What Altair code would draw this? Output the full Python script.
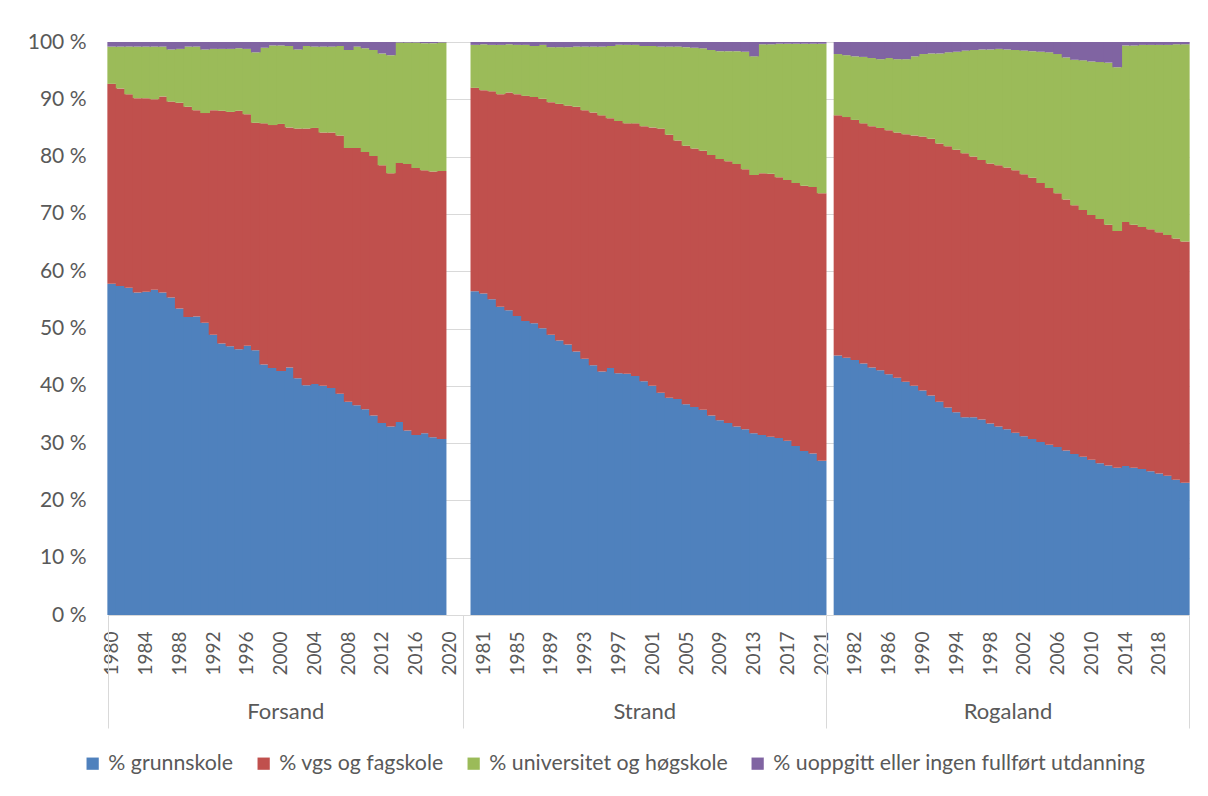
import json
import altair as alt
import pandas as pd

FONT = "Lato"
TXT = "#595959"
GRID = "#d9d9d9"

series_names = ["% grunnskole", "% vgs og fagskole", "% universitet og høgskole",
                "% uoppgitt eller ingen fullført utdanning"]
series_colors = ["#4F81BD", "#C0504D", "#9BBB59", "#8064A2"]

groups = ["Forsand", "Strand", "Rogaland"]
# category axis years per group (some categories have no data)
forsand_years = list(range(1980, 2022))
strand_years = list(range(1979, 2022))
rogaland_years = list(range(1979, 2022))
first_data_year = 1980

forsand_grunnskole = [57.8, 57.4, 57.1, 56.3, 56.4, 56.8, 56.3, 55.4, 53.5, 52.0,
                      52.1, 51.0, 48.9, 47.4, 46.9, 46.4, 47.0, 46.2, 43.7, 43.1,
                      42.6, 43.2, 41.3, 40.1, 40.3, 40.0, 39.6, 38.6, 37.2, 36.6,
                      35.9, 34.8, 33.5, 32.9, 33.7, 32.2, 31.4, 31.7, 31.0, 30.7]
forsand_vgs = [34.9, 34.5, 33.8, 33.9, 33.8, 33.3, 34.2, 34.2, 35.9, 36.7,
               36.0, 36.6, 39.2, 40.6, 40.9, 41.6, 40.4, 39.7, 42.1, 42.4,
               43.1, 41.9, 43.6, 44.8, 44.7, 44.2, 44.6, 45.1, 44.3, 44.9,
               44.9, 45.3, 45.0, 44.2, 45.2, 46.5, 46.6, 45.9, 46.4, 46.8]
forsand_uni = [6.5, 7.3, 8.3, 9.0, 9.0, 9.2, 8.7, 9.1, 9.4, 10.5,
               11.1, 11.1, 10.7, 10.8, 11.0, 10.9, 11.4, 12.3, 13.2, 13.9,
               13.7, 14.2, 13.8, 14.4, 14.2, 15.0, 15.0, 15.6, 17.1, 17.7,
               18.1, 18.5, 19.5, 20.6, 21.0, 21.2, 21.9, 22.2, 22.4, 22.4]
forsand_uopp = [0.8, 0.8, 0.8, 0.8, 0.8, 0.8, 0.8, 1.3, 1.2, 0.8,
                0.8, 1.3, 1.2, 1.2, 1.2, 1.1, 1.2, 1.8, 1.0, 0.6,
                0.6, 0.7, 1.3, 0.7, 0.8, 0.8, 0.8, 0.7, 1.4, 0.8,
                1.1, 1.4, 2.0, 2.3, 0.1, 0.1, 0.1, 0.2, 0.2, 0.1]

strand_grunnskole = [56.5, 56.1, 55.1, 53.8, 53.2, 52.2, 51.3, 50.9, 50.0, 48.9,
                     47.9, 47.2, 46.0, 44.7, 43.6, 42.5, 43.1, 42.2, 42.1, 41.7,
                     40.8, 40.0, 38.8, 37.9, 37.7, 36.8, 36.3, 35.8, 34.8, 34.0,
                     33.5, 32.9, 32.4, 31.7, 31.4, 31.1, 30.9, 30.4, 29.5, 28.6,
                     28.2, 26.9]
strand_vgs = [35.5, 35.5, 36.3, 37.1, 38.0, 38.7, 39.3, 39.5, 40.0, 40.6,
              41.3, 41.7, 42.7, 43.4, 44.1, 44.7, 43.6, 44.0, 43.7, 44.1,
              44.5, 45.1, 46.1, 45.9, 45.1, 45.1, 45.1, 45.2, 45.5, 45.6,
              45.7, 45.8, 45.4, 45.1, 45.7, 45.9, 45.5, 45.5, 45.9, 46.3,
              46.5, 46.7]
strand_uni = [7.5, 8.0, 8.1, 8.6, 8.4, 8.6, 8.9, 8.9, 9.4, 9.6,
              9.9, 10.2, 10.5, 11.1, 11.5, 12.0, 12.6, 13.3, 13.7, 13.7,
              14.0, 14.2, 14.3, 15.4, 16.4, 17.2, 17.6, 17.9, 18.3, 18.8,
              19.2, 19.7, 20.5, 20.7, 22.5, 22.6, 23.3, 23.8, 24.3, 24.8,
              25.0, 26.1]
strand_uopp = [0.5, 0.4, 0.5, 0.5, 0.4, 0.5, 0.5, 0.7, 0.5, 0.9,
               0.9, 0.9, 0.8, 0.8, 0.8, 0.8, 0.7, 0.5, 0.5, 0.5,
               0.7, 0.7, 0.8, 0.8, 0.8, 0.9, 1.0, 1.1, 1.4, 1.6,
               1.6, 1.6, 1.7, 2.5, 0.4, 0.4, 0.3, 0.3, 0.3, 0.3,
               0.3, 0.3]

rogaland_grunnskole = [45.3, 44.9, 44.5, 43.9, 43.2, 42.7, 42.0, 41.4, 40.7, 40.0,
                       39.2, 38.3, 37.2, 36.2, 35.4, 34.5, 34.5, 34.1, 33.4, 32.9,
                       32.4, 31.8, 31.2, 30.7, 30.2, 29.7, 29.3, 28.7, 28.1, 27.6,
                       27.1, 26.5, 26.1, 25.7, 26.0, 25.7, 25.5, 25.1, 24.7, 24.3,
                       23.6, 23.1]
rogaland_vgs = [41.9, 42.0, 41.9, 41.9, 42.1, 42.3, 42.6, 42.8, 43.2, 43.7,
                44.3, 44.8, 45.1, 45.6, 45.8, 46.1, 45.5, 45.3, 45.4, 45.6,
                45.7, 45.8, 45.7, 45.6, 45.2, 44.8, 44.3, 43.8, 43.4, 43.1,
                42.7, 42.6, 42.0, 41.3, 42.6, 42.4, 42.2, 42.2, 42.1, 42.0,
                42.1, 42.1]
rogaland_uni = [10.7, 10.8, 11.1, 11.6, 11.9, 12.0, 12.6, 12.8, 13.1, 13.8,
                14.4, 14.9, 15.7, 16.4, 17.1, 17.9, 18.6, 19.3, 19.9, 20.3,
                20.6, 21.0, 21.6, 22.1, 22.9, 23.7, 24.3, 24.8, 25.4, 26.1,
                26.8, 27.4, 28.3, 28.6, 30.8, 31.3, 31.8, 32.2, 32.7, 33.2,
                33.9, 34.4]
rogaland_uopp = [2.1, 2.3, 2.5, 2.6, 2.8, 3.0, 2.8, 3.0, 3.0, 2.5,
                 2.1, 2.0, 2.0, 1.8, 1.7, 1.5, 1.4, 1.3, 1.3, 1.2,
                 1.3, 1.4, 1.5, 1.6, 1.7, 1.8, 2.1, 2.7, 3.1, 3.2,
                 3.4, 3.5, 3.6, 4.4, 0.6, 0.6, 0.5, 0.5, 0.5, 0.5,
                 0.4, 0.4]

group_series = {
    "Forsand": [forsand_grunnskole, forsand_vgs, forsand_uni, forsand_uopp],
    "Strand": [strand_grunnskole, strand_vgs, strand_uni, strand_uopp],
    "Rogaland": [rogaland_grunnskole, rogaland_vgs, rogaland_uni, rogaland_uopp],
}
axis_years = {"Forsand": forsand_years, "Strand": strand_years, "Rogaland": rogaland_years}

rows = []
for g in groups:
    for si, vals in enumerate(group_series[g]):
        for i, v in enumerate(vals):
            rows.append({"key": f"{g}|{first_data_year + i}", "series": series_names[si],
                         "ord": si, "value": v})
df = pd.DataFrame(rows)

all_keys = [f"{g}|{y}" for g in groups for y in axis_years[g]]
label_keys = all_keys[::4]
total = len(all_keys)

starts, ends = [], []
pos = 0
for g in groups:
    starts.append(pos)
    pos += len(axis_years[g])
    ends.append(pos)
centers = [(s + e) / 2 for s, e in zip(starts, ends)]
boundaries = starts + [ends[-1]]
gdf = pd.DataFrame({"group": groups, "center": centers})
bdf = pd.DataFrame({"b": boundaries})

color_scale = alt.Scale(domain=series_names, range=series_colors)
yvals = [i / 10 for i in range(11)]

bars = alt.Chart(df).mark_bar(width=alt.RelativeBandSize(band=1.15)).encode(
    x=alt.X("key:N",
            scale=alt.Scale(domain=all_keys, paddingInner=0, paddingOuter=0),
            axis=alt.Axis(orient="bottom", values=label_keys,
                          labelExpr="split(datum.value, '|')[1]",
                          labelAngle=-90, labelPadding=16, ticks=False, tickSize=0,
                          domain=True, domainColor=GRID, domainWidth=1, grid=False,
                          labelOverlap=False, labelFontSize=19, labelFont=FONT,
                          labelColor=TXT, title=None)),
    y=alt.Y("value:Q", stack="normalize",
            scale=alt.Scale(domain=[0, 1], nice=False),
            axis=alt.Axis(values=yvals, labelExpr="round(datum.value*100) + ' %'",
                          grid=True, gridColor=GRID, gridWidth=1, domain=False,
                          ticks=False, tickSize=0, labelPadding=22, labelFontSize=21,
                          labelFont=FONT, labelColor=TXT, title=None)),
    color=alt.Color("series:N", scale=color_scale,
                    legend=alt.Legend(orient="none", legendX=-26, legendY=711,
                                      direction="horizontal", title=None,
                                      symbolType="square", symbolSize=150,
                                      symbolStrokeWidth=0, labelFontSize=21.3,
                                      labelFont=FONT, labelColor=TXT,
                                      columnPadding=19, labelOffset=5, labelLimit=0)),
    order=alt.Order("ord:Q", sort="ascending"),
)

label_expr = f"{json.dumps(groups)}[indexof({json.dumps(centers)}, datum.value)]"
glabels = alt.Chart(gdf).mark_rule(opacity=0).encode(
    x=alt.X("center:Q", scale=alt.Scale(domain=[0, total], nice=False, zero=False),
            axis=alt.Axis(orient="bottom", values=centers, labelExpr=label_expr,
                          ticks=False, domain=False, grid=False, labelPadding=86,
                          labelAngle=0, labelFontSize=22, labelFont=FONT,
                          labelColor=TXT, labelFlush=False, labelOverlap=False,
                          title=None))
)

seps = alt.Chart(bdf).mark_rule(opacity=0).encode(
    x=alt.X("b:Q", scale=alt.Scale(domain=[0, total], nice=False, zero=False),
            axis=alt.Axis(orient="bottom", values=boundaries, labels=False,
                          ticks=True, tickSize=113, tickColor=GRID, tickWidth=1,
                          domain=False, grid=False, title=None))
)

chart = alt.layer(bars, glabels, seps).resolve_scale(x="independent").properties(
    width=1081, height=573,
    autosize=alt.AutoSizeParams(type="none"),
    padding={"left": 100, "top": 34, "right": 11, "bottom": 173},
    background="white",
).configure_view(stroke="transparent")

chart.save("out.html", embed_options={"renderer": "svg", "actions": False})
